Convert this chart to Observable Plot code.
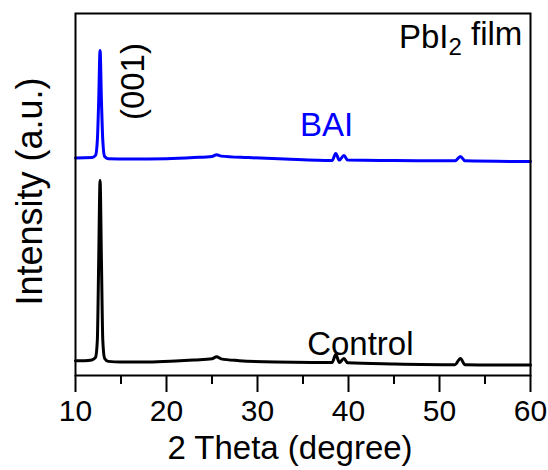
<!DOCTYPE html>
<html>
<head>
<meta charset="utf-8">
<script src="https://cdn.jsdelivr.net/npm/d3@7"></script>
<script src="https://cdn.jsdelivr.net/npm/@observablehq/plot@0.6"></script>
<style>
  html, body { margin: 0; padding: 0; background: #fff; }
  svg { display: block; }
</style>
</head>
<body>
<div id="chart"></div>
<script>
// 2θ positions (degree) and intensities (a.u.)
const controlTheta = [10, 11, 11.8, 12.2, 12.4, 12.55, 12.7, 12.85, 13.0, 13.2, 13.6, 15, 18, 21, 23, 25, 25.5, 26, 28, 32, 36, 38.2, 38.6, 39.0, 39.5, 39.9, 45, 51.7, 52.3, 52.8, 56, 60];
const controlI     = [4.1, 4.1, 4.3, 5.0, 9.7, 31.8, 53.9, 31.8, 9.7, 4.7, 3.9, 3.7, 3.7, 4.0, 4.3, 4.6, 5.2, 4.6, 4.1, 3.7, 3.6, 3.6, 5.8, 3.6, 4.7, 3.5, 3.2, 3.0, 4.7, 3.0, 2.9, 2.9];

const baiTheta = [10, 11.8, 12.2, 12.4, 12.55, 12.7, 12.85, 13.0, 13.2, 13.6, 16, 20, 23, 25, 25.5, 26, 29, 33, 38.2, 38.6, 39.0, 39.5, 39.9, 45, 51.7, 52.3, 52.8, 60];
const baiI     = [60.1, 60.2, 60.8, 64.9, 76.0, 89.8, 76.0, 64.9, 60.5, 59.9, 59.8, 59.9, 60.2, 60.5, 61.0, 60.6, 60.2, 59.8, 59.4, 61.3, 59.5, 60.8, 59.5, 59.4, 59.3, 60.5, 59.3, 59.1];

const xTicks = [10, 20, 30, 40, 50, 60];
const xMinorTicks = [15, 25, 35, 45, 55];

const labels = [
  {text: "BAI", x: 37.6, y: 69.1, color: "#0000ff"},
  {text: "Control", x: 41.3, y: 8.6, color: "#000000"}
];
const peakLabel = [{text: "(001)", x: 16.4, y: 81.2}];
const titleLabel = [{text: "PbI2 film", x: 59.1, y: 93.4}];

const control = controlTheta.map((t, i) => ({t, v: controlI[i]}));
const bai = baiTheta.map((t, i) => ({t, v: baiI[i]}));

const font = "Liberation Sans, Arial, Helvetica, sans-serif";

const chart = Plot.plot({
  width: 548,
  height: 470,
  marginLeft: 75,
  marginRight: 18,
  marginTop: 13,
  marginBottom: 95,
  style: {fontFamily: font, background: "#fff", color: "#000", overflow: "visible"},
  x: {domain: [10, 60]},
  y: {domain: [0, 100], axis: null},
  marks: [
    Plot.axisX({ticks: xMinorTicks, tickSize: 9, text: null, strokeWidth: 2}),
    Plot.axisX({ticks: xTicks, tickSize: 17, tickPadding: 7, fontSize: 30, strokeWidth: 2, label: null, tickFormat: d => String(d)}),
    Plot.line(control, {x: "t", y: "v", stroke: "#000000", strokeWidth: 3, curve: "monotone-x"}),
    Plot.line(bai, {x: "t", y: "v", stroke: "#0000ff", strokeWidth: 3, curve: "monotone-x"}),
    Plot.text(labels, {x: "x", y: "y", text: "text", fill: "color", fontSize: 33, lineAnchor: "middle"}),
    Plot.text(peakLabel, {x: "x", y: "y", text: "text", fill: "#000", fontSize: 33, rotate: -90, lineAnchor: "middle"}),
    Plot.text(titleLabel, {x: "x", y: "y", text: "text", fill: "#000", fontSize: 33, textAnchor: "end", lineAnchor: "middle", className: "pbi-title"}),
    Plot.text(["2 Theta (degree)"], {frameAnchor: "bottom", text: d => d, fontSize: 33, dy: 73, dx: -13, lineAnchor: "middle"}),
    Plot.text(["Intensity (a.u.)"], {frameAnchor: "left", text: d => d, fontSize: 36, rotate: -90, dx: -45, dy: -3, textAnchor: "middle", lineAnchor: "middle"}),
    Plot.frame({stroke: "#000", strokeWidth: 2})
  ]
});

document.getElementById("chart").appendChild(chart);

// subscript for PbI2
d3.select(chart).selectAll("g.pbi-title text").each(function() {
  const t = d3.select(this);
  t.text(null);
  t.append("tspan").text("PbI");
  t.append("tspan").attr("font-size", 24).attr("dy", "0.3em").text("2");
  t.append("tspan").attr("dy", "-0.3em").text(" film");
});
</script>
</body>
</html>
